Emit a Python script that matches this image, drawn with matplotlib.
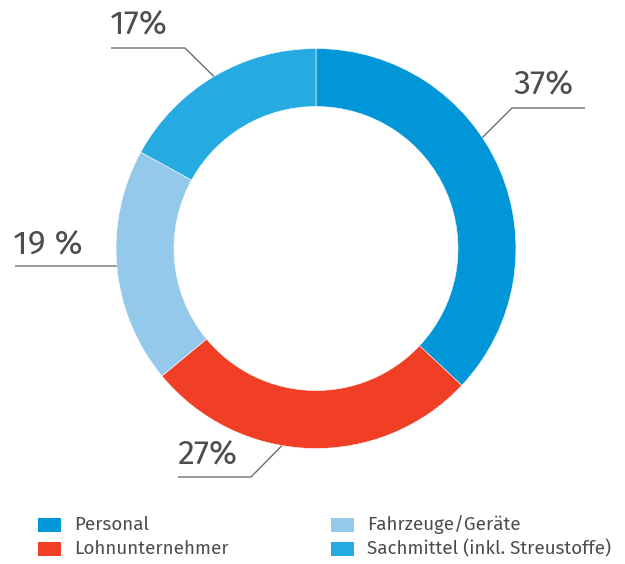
import numpy as np
import matplotlib
matplotlib.use("Agg")
import matplotlib.pyplot as plt
from matplotlib.patches import Rectangle

# data
categories = ["Personal", "Lohnunternehmer", "Fahrzeuge/Geräte", "Sachmittel (inkl. Streustoffe)"]
shares = [37, 27, 19, 17]
labels = ["37%", "27%", "19 %", "17%"]
colors = ["#0096d7", "#f03f24", "#94c9ec", "#25abe2"]

plt.rcParams['font.family'] = ['Fira Sans', 'Fira Sans Condensed', 'DejaVu Sans']
TXT = "#4d4d4f"
LINE = "#6d6d6d"

W, H = 625, 564
fig = plt.figure(figsize=(W / 100, H / 100), dpi=100)
ax = fig.add_axes([0, 0, 1, 1])

cx, cy = 316, H - 248.5
R, ring = 200, 58

ax.pie(shares, colors=colors, startangle=90, counterclock=False,
       radius=R, center=(cx, cy),
       wedgeprops=dict(width=ring, edgecolor="white", linewidth=0.4))

ax.set_xlim(0, W)
ax.set_ylim(0, H)
ax.set_aspect("equal")
ax.axis("off")

# leader lines: angle on the ring, elbow point, end of horizontal run (pixel layout)
leaders = {
    "37%": (33.7, (512, 108), 585),
    "17%": (120.7, (185, 48), 111),
    "19 %": (185.0, (116, 266), 15),
    "27%": (260.2, (251, 477), 178),
}
text_pos = {
    "37%": (513, 93),
    "17%": (110, 33),
    "19 %": (13, 253),
    "27%": (177, 463),
}
for lab in labels:
    ang, (ex, ey), hx = leaders[lab]
    sx = cx + R * np.cos(np.radians(ang))
    sy = cy + R * np.sin(np.radians(ang))
    ax.plot([sx, ex, hx], [sy, H - ey, H - ey], color=LINE, lw=1.0,
            solid_capstyle="butt", zorder=1)
    tx, ty = text_pos[lab]
    ax.text(tx, H - ty, lab, fontsize=24.5, fontweight="normal", color=TXT,
            ha="left", va="baseline")

# legend
leg_x = [38, 38, 331, 331]
leg_y = [525, 549, 525, 549]
for cat, col, lx, ly in zip(categories, colors, leg_x, leg_y):
    ax.add_patch(Rectangle((lx, H - ly - 7), 23, 14, facecolor=col, edgecolor="none"))
    ax.text(lx + 36, H - ly, cat, fontsize=13.5, color=TXT, ha="left", va="center")

fig.savefig("out.png", dpi=100)
